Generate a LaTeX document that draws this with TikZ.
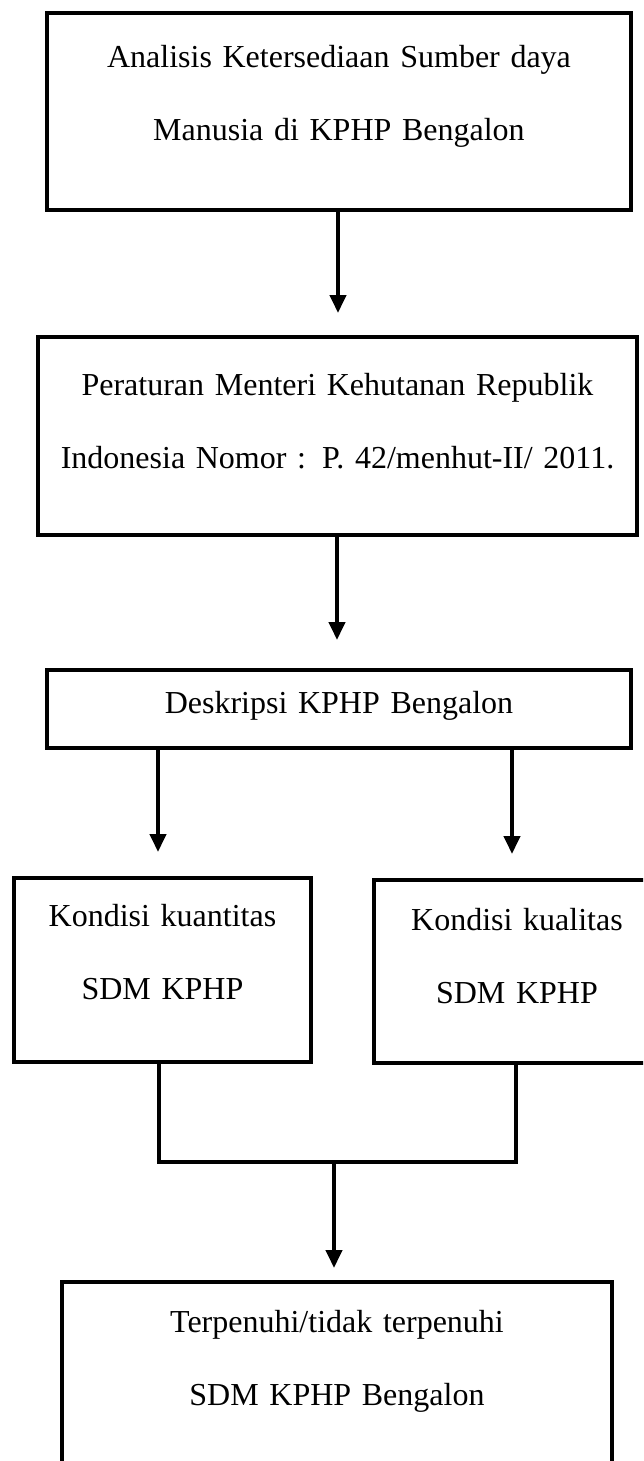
\documentclass[tikz,border=0pt]{standalone}
\usepackage{fontspec}
\setmainfont{Liberation Serif}
\usetikzlibrary{arrows.meta, positioning}

% strut for the first line and extra depth under the last line
\newcommand{\atas}{\rule{0pt}{20pt}}
\newcommand{\bawah}[1]{\rule[-#1]{0pt}{0pt}}

\begin{document}
\begin{tikzpicture}[x=0.75pt, y=-0.75pt,
    box/.style={draw, line width=3pt, inner xsep=0pt, align=center,
        font=\fontsize{24pt}{54.75pt}\selectfont},
    flow/.style={line width=3pt, -{Triangle[width=12pt, length=13.5pt]}}]
    \useasboundingbox (0,0) rectangle (643,1461);
    \clip (0,0) rectangle (643,1461);

    \node[box, minimum width=438pt, minimum height=147.75pt, text width=438pt] (analisis) at (339,111.5)
        {\atas Analisis Ketersediaan Sumber daya\\ Manusia di KPHP Bengalon\bawah{32pt}};
    \node[box, minimum width=449.25pt, minimum height=148.5pt, text width=449.25pt] (peraturan) at (337.5,436)
        {\atas Peraturan Menteri Kehutanan Republik\\ Indonesia Nomor : P. 42/menhut-II/ 2011.\bawah{26.75pt}};
    \node[box, minimum width=438pt, minimum height=58.5pt, text width=438pt] (deskripsi) at (339,709)
        {\atas Deskripsi KPHP Bengalon\bawah{14pt}};
    \node[box, minimum width=222.75pt, minimum height=138pt, text width=222.75pt] (kuantitas) at (162.5,970)
        {\atas Kondisi kuantitas\\ SDM KPHP\bawah{31.25pt}};
    \node[box, minimum width=214.5pt, minimum height=137.25pt, text width=214.5pt] (kualitas) at (517,971.5)
        {\atas Kondisi kualitas\\ SDM KPHP\bawah{27.5pt}};
    \node[box, minimum width=412.5pt, minimum height=171pt, text width=412.5pt] (hasil) at (337,1396)
        {\atas Terpenuhi/tidak terpenuhi\\ SDM KPHP Bengalon\bawah{61.25pt}};

    \coordinate (gabung) at (334,1162);

    \draw[flow, shorten >=16.5pt] (analisis.south -| 338,0) -- (peraturan.north -| 338,0);
    \draw[flow, shorten >=21pt] (peraturan.south -| 337,0) -- (deskripsi.north -| 337,0);
    \draw[flow, shorten >=18pt] (deskripsi.south -| 158,0) -- (kuantitas.north -| 158,0);
    \draw[flow, shorten >=18pt] (deskripsi.south -| 512,0) -- (kualitas.north -| 512,0);
    \draw[line width=3pt] (kuantitas.south -| 159,0) |- (gabung) -| (kualitas.south -| 516,0);
    \draw[flow, shorten >=9pt] (gabung) -- (hasil.north -| gabung);
\end{tikzpicture}
\end{document}
